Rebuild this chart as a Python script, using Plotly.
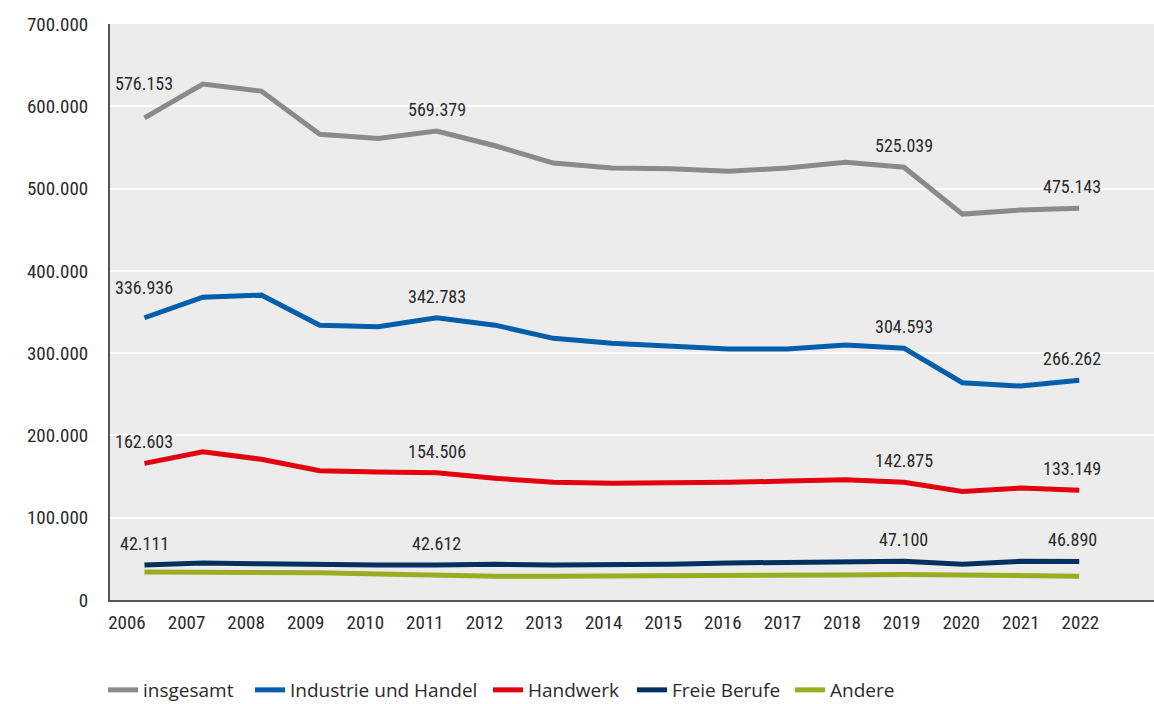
import plotly.graph_objects as go

years = list(range(2006, 2023))
tick_labels = [str(y) for y in years]

insgesamt = [586000, 627000, 618500, 566000, 561000, 570000, 552000, 531000, 525000,
             524000, 521000, 525000, 532000, 526000, 469000, 474000, 476000]
industrie = [343000, 368000, 370500, 334000, 332000, 343000, 334000, 318000, 312000,
             309000, 305000, 305000, 310000, 306000, 264000, 260000, 267000]
handwerk = [166000, 180000, 171000, 157000, 155600, 154500, 148000, 143000, 142000,
            142000, 143000, 144500, 146000, 143000, 132000, 136000, 133500]
freie = [42500, 45000, 44000, 42500, 42500, 42600, 43500, 42500, 42500,
         43500, 45000, 45500, 46000, 47100, 43500, 47000, 46900]
andere = [34000, 34000, 33500, 33000, 31500, 30000, 29000, 29000, 29000,
          30000, 30500, 30500, 30500, 31000, 30500, 31000, 29000]

label_years = [2006, 2011, 2019, 2022]
label_text = {
    "insgesamt": ["576.153", "569.379", "525.039", "475.143"],
    "Industrie und Handel": ["336.936", "342.783", "304.593", "266.262"],
    "Handwerk": ["162.603", "154.506", "142.875", "133.149"],
    "Freie Berufe": ["42.111", "42.612", "47.100", "46.890"],
}

series = [
    ("insgesamt", insgesamt, "#8a8a8a"),
    ("Industrie und Handel", industrie, "#005eaa"),
    ("Handwerk", handwerk, "#e3000f"),
    ("Freie Berufe", freie, "#00305f"),
    ("Andere", andere, "#98ad22"),
]

FONT = "Liberation Sans Narrow, Roboto Condensed, Arial Narrow, Noto Sans"
LEG_FONT = "Open Sans, Noto Sans, DejaVu Sans"
TXT = "#2a2a2a"
W, H = 1154, 704
ML, MR, MT, MB = 110, 0, 24, 104
pw = W - ML - MR

fig = go.Figure()
legend_text_px = [143, 290, 528, 672, 830]
layout_legends = {}
for i, (name, vals, col) in enumerate(series):
    lg = "legend" if i == 0 else f"legend{i+1}"
    fig.add_trace(go.Scatter(
        x=years, y=vals, name=name, mode="lines",
        line=dict(color=col, width=5),
        legend=lg, hoverinfo="skip", showlegend=True,
    ))
    layout_legends[lg] = dict(
        x=(legend_text_px[i] - 40 - ML) / pw, xanchor="left",
        yref="container", y=1 - 690 / H, yanchor="middle",
        orientation="h", bgcolor="rgba(0,0,0,0)",
        font=dict(family=LEG_FONT, size=19, color=TXT),
        itemwidth=30,
    )

# extra lift for the first-column labels of the two top lines
extra_shift = {("insgesamt", 2006): 13, ("Industrie und Handel", 2006): 9}
annotations = []
for name, vals, col in series:
    if name not in label_text:
        continue
    for yr, txt in zip(label_years, label_text[name]):
        yv = vals[years.index(yr)]
        annotations.append(dict(
            x=yr, y=yv, text=txt, showarrow=False,
            xanchor="center", yanchor="bottom",
            yshift=9 + extra_shift.get((name, yr), 0),
            xshift=-7 if yr == 2022 else 0,
            font=dict(family=FONT, size=18, color=TXT),
        ))

tick_pos = [2005.70 + 1.02 * i for i in range(len(tick_labels))]

fig.update_layout(
    width=W, height=H,
    margin=dict(l=ML, r=MR, t=MT, b=MB, autoexpand=False),
    paper_bgcolor="white", plot_bgcolor="#ececec",
    separators=",.", showlegend=True,
    font=dict(family=FONT, size=18, color=TXT),
    annotations=annotations,
    **layout_legends,
)
fig.update_xaxes(
    range=[2005.41, 2023.28],
    tickmode="array", tickvals=tick_pos, ticktext=tick_labels,
    showgrid=False, zeroline=False,
    showline=True, linecolor="#555555", linewidth=2,
    ticks="", ticklabelstandoff=4,
    tickfont=dict(family=FONT, size=19, color=TXT),
)
fig.update_yaxes(
    range=[0, 700000], dtick=100000, tickformat=",d",
    showgrid=True, gridcolor="white", gridwidth=1.5, zeroline=False,
    showline=True, linecolor="#555555", linewidth=2,
    ticks="", ticklabelstandoff=16,
    tickfont=dict(family=FONT, size=19, color=TXT),
)

fig.write_html(
    "out.html",
    config={"displayModeBar": False},
    post_script="document.body.style.margin='0';document.body.style.overflow='hidden';",
)
